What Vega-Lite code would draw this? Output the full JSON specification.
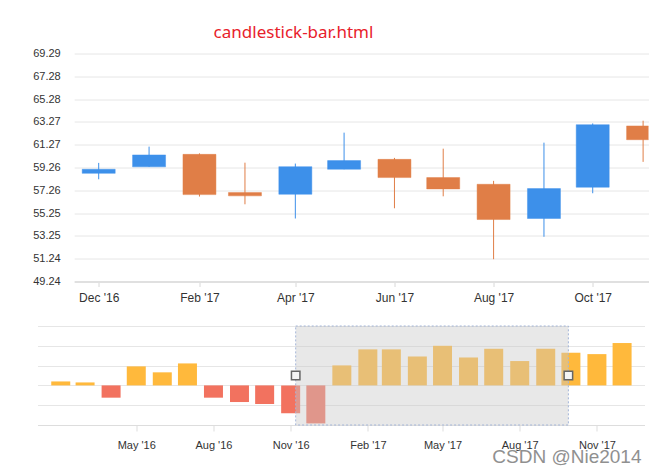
{
  "$schema": "https://vega.github.io/schema/vega-lite/v6.json",
  "background": "white",
  "padding": {"left": 32.5, "top": 23.5, "right": 0, "bottom": 0},
  "spacing": 21.5,
  "config": {
    "view": {"stroke": null},
    "axis": {"labelFont": "Liberation Sans", "labelColor": "#333333", "gridColor": "#e6e6e6", "domainColor": "#dddddd", "tickColor": "#dddddd", "title": null}
  },
  "datasets": {
    "candles": [
      {"date": "2016-12-01", "open": 58.75, "high": 59.67, "low": 58.23, "close": 59.11},
      {"date": "2017-01-01", "open": 59.32, "high": 61.10, "low": 59.32, "close": 60.37},
      {"date": "2017-02-01", "open": 60.42, "high": 60.51, "low": 56.71, "close": 56.88},
      {"date": "2017-03-01", "open": 57.06, "high": 59.69, "low": 56.03, "close": 56.77},
      {"date": "2017-04-01", "open": 56.91, "high": 59.61, "low": 54.78, "close": 59.34},
      {"date": "2017-05-01", "open": 59.11, "high": 62.33, "low": 59.11, "close": 59.87},
      {"date": "2017-06-01", "open": 59.98, "high": 60.11, "low": 55.68, "close": 58.38},
      {"date": "2017-07-01", "open": 58.38, "high": 60.92, "low": 56.73, "close": 57.38},
      {"date": "2017-08-01", "open": 57.79, "high": 58.09, "low": 51.20, "close": 54.69},
      {"date": "2017-09-01", "open": 54.78, "high": 61.45, "low": 53.17, "close": 57.41},
      {"date": "2017-10-01", "open": 57.53, "high": 63.14, "low": 57.00, "close": 63.03},
      {"date": "2017-11-01", "open": 62.92, "high": 63.38, "low": 59.76, "close": 61.71}
    ],
    "nav": [
      {"date": "2016-02-01", "value": 0.20},
      {"date": "2016-03-01", "value": 0.15},
      {"date": "2016-04-01", "value": -0.62},
      {"date": "2016-05-01", "value": 0.96},
      {"date": "2016-06-01", "value": 0.66},
      {"date": "2016-07-01", "value": 1.11},
      {"date": "2016-08-01", "value": -0.62},
      {"date": "2016-09-01", "value": -0.84},
      {"date": "2016-10-01", "value": -0.94},
      {"date": "2016-11-01", "value": -1.41},
      {"date": "2016-12-01", "value": -1.92},
      {"date": "2017-01-01", "value": 1.01},
      {"date": "2017-02-01", "value": 1.82},
      {"date": "2017-03-01", "value": 1.82},
      {"date": "2017-04-01", "value": 1.46},
      {"date": "2017-05-01", "value": 2.00},
      {"date": "2017-06-01", "value": 1.41},
      {"date": "2017-07-01", "value": 1.85},
      {"date": "2017-08-01", "value": 1.23},
      {"date": "2017-09-01", "value": 1.85},
      {"date": "2017-10-01", "value": 1.65},
      {"date": "2017-11-01", "value": 1.58},
      {"date": "2017-12-01", "value": 2.14}
    ],
    "sel": [
      {"start": "2016-11-07", "end": "2017-09-28"}
    ],
    "handles": [
      {"date": "2016-11-07"},
      {"date": "2017-09-28"}
    ]
  },
  "vconcat": [
    {
      "width": 611,
      "height": 228,
      "title": {"text": "candlestick-bar.html", "color": "#e8212b", "fontSize": 17, "font": "Noto Sans", "fontWeight": "normal", "anchor": "middle", "dx": -49.5, "offset": 5.5},
      "data": {"name": "candles"},
      "layer": [
        {
          "mark": {"type": "rule", "clip": true, "strokeWidth": 1},
          "encoding": {
            "x": {"field": "date", "type": "temporal",
              "scale": {"type": "utc", "range": [36.7, 611], "domain": [{"year": 2016, "month": 11, "date": 19, "utc": true}, {"year": 2017, "month": 11, "date": 1, "hours": 6, "utc": true}]},
              "axis": {"values": [
                {"year": 2016, "month": 12, "date": 1, "utc": true},
                {"year": 2017, "month": 2, "date": 1, "utc": true},
                {"year": 2017, "month": 4, "date": 1, "utc": true},
                {"year": 2017, "month": 6, "date": 1, "utc": true},
                {"year": 2017, "month": 8, "date": 1, "utc": true},
                {"year": 2017, "month": 10, "date": 1, "utc": true}],
                "format": "%b '%y", "labelFontSize": 12, "tickSize": 5, "labelPadding": 6, "grid": false,
                "domainColor": "#e0e0e0", "domainWidth": 2, "tickColor": "#d8d8d8", "labelFlush": false, "labelOverlap": false}},
            "y": {"field": "low", "type": "quantitative",
              "scale": {"domain": [49.24, 69.29], "zero": false, "nice": false},
              "axis": {"values": [49.24, 51.24, 53.25, 55.25, 57.26, 59.26, 61.27, 63.27, 65.28, 67.28, 69.29], "tickCount": 11, "offset": -36.7,
                "format": ".2f", "ticks": false, "domain": false, "labelPadding": 14, "labelFontSize": 11, "gridColor": "#e6e6e6", "labelOverlap": false, "labelFlush": false}},
            "y2": {"field": "high"},
            "color": {"condition": {"test": "datum.close > datum.open", "value": "#3d90ea"}, "value": "#e07e47"}
          }
        },
        {
          "mark": {"type": "bar", "clip": true, "size": 33, "strokeWidth": 1, "strokeOpacity": 0.45},
          "encoding": {
            "x": {"field": "date", "type": "temporal"},
            "y": {"field": "open", "type": "quantitative"},
            "y2": {"field": "close"},
            "color": {"condition": {"test": "datum.close > datum.open", "value": "#3d90ea"}, "value": "#e07e47"},
            "stroke": {"condition": {"test": "datum.close > datum.open", "value": "#3d90ea"}, "value": "#e07e47"}
          }
        }
      ]
    },
    {
      "width": 607,
      "height": 99,
      "title": {"text": "CSDN @Nie2014", "orient": "bottom", "anchor": "end", "fontSize": 19, "font": "Liberation Sans", "fontWeight": "normal", "color": "#909090", "offset": -2, "dx": -3},
      "layer": [
        {
          "data": {"name": "nav"},
          "mark": {"type": "bar", "size": 19},
          "encoding": {
            "x": {"field": "date", "type": "temporal",
              "scale": {"type": "utc", "domain": [{"year": 2016, "month": 1, "date": 10, "hours": 6, "utc": true}, {"year": 2017, "month": 12, "date": 21, "hours": 18, "utc": true}]},
              "axis": {"values": [
                {"year": 2016, "month": 5, "date": 1, "utc": true},
                {"year": 2016, "month": 8, "date": 1, "utc": true},
                {"year": 2016, "month": 11, "date": 1, "utc": true},
                {"year": 2017, "month": 2, "date": 1, "utc": true},
                {"year": 2017, "month": 5, "date": 1, "utc": true},
                {"year": 2017, "month": 8, "date": 1, "utc": true},
                {"year": 2017, "month": 11, "date": 1, "utc": true}],
                "format": "%b '%y", "labelFontSize": 11, "tickSize": 6, "labelPadding": 8, "grid": false,
                "domainColor": "#dddddd", "tickColor": "#dddddd", "labelFlush": false, "labelOverlap": false}},
            "y": {"field": "value", "type": "quantitative",
              "scale": {"domain": [-2, 3], "nice": false, "zero": false},
              "axis": {"values": [-2, -1, 0, 1, 2, 3], "tickCount": 6, "labels": false, "ticks": false, "domain": false}},
            "color": {"condition": {"test": "datum.value > 0", "value": "#ffb93c"}, "value": "#f2725f"}
          }
        },
        {
          "data": {"name": "sel"},
          "mark": {"type": "rect", "fill": "#c8c8c8", "fillOpacity": 0.42, "stroke": "#a4b6d8", "strokeDash": [2, 2], "strokeWidth": 1},
          "encoding": {
            "x": {"field": "start", "type": "temporal"},
            "x2": {"field": "end"},
            "y": {"datum": -2},
            "y2": {"datum": 3}
          }
        },
        {
          "data": {"name": "handles"},
          "mark": {"type": "point", "shape": "square", "filled": true, "size": 72, "fill": "#f4f4f4", "stroke": "#666666", "strokeWidth": 1.5, "opacity": 1},
          "encoding": {
            "x": {"field": "date", "type": "temporal"},
            "y": {"datum": 0.5}
          }
        }
      ]
    }
  ]
}
